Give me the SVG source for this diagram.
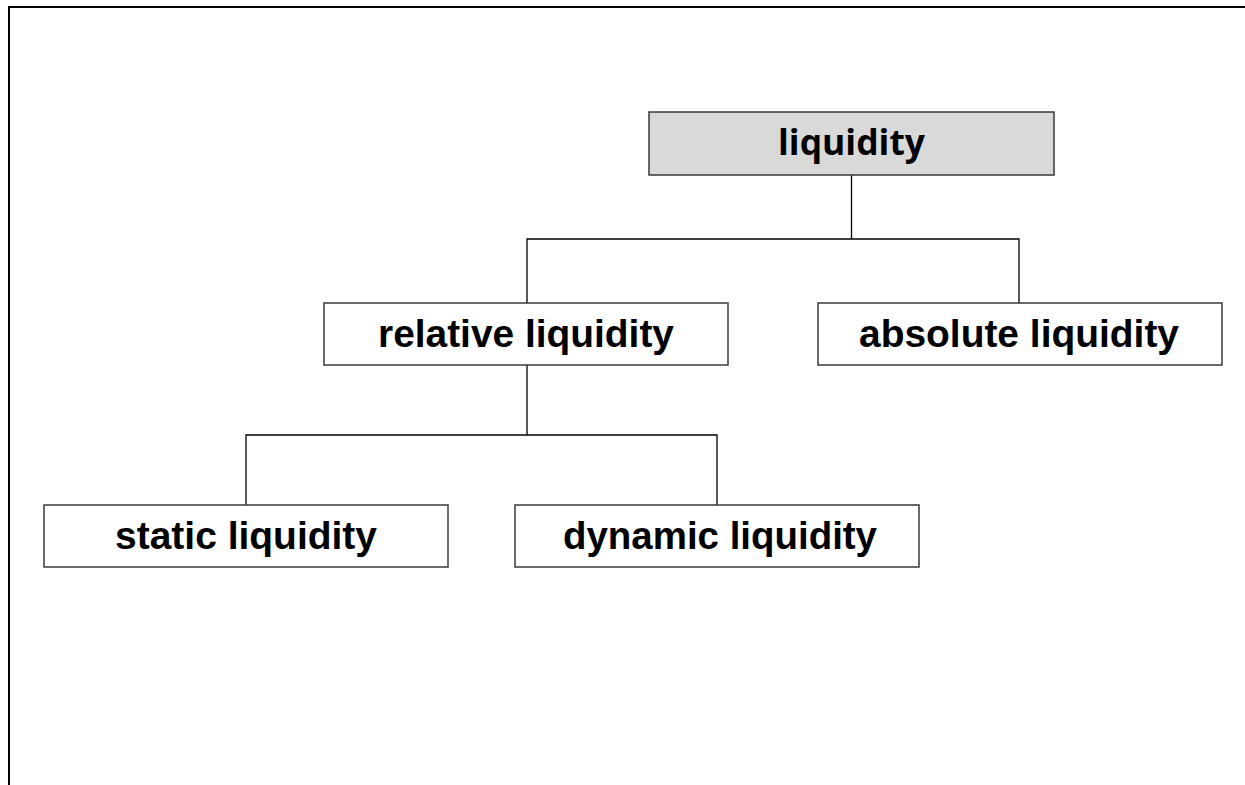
<svg xmlns="http://www.w3.org/2000/svg" width="1245" height="785" viewBox="0 0 1245 785">
  <style>
    .frame { fill: none; stroke: #000; stroke-width: 2; }
    .box { fill: #fff; stroke: #3a3a3a; stroke-width: 1.5; }
    .root { fill: #d9d9d9; stroke: #3a3a3a; stroke-width: 1.5; }
    .lbl { font-family: "Liberation Sans", Arial, sans-serif; font-weight: bold; font-size: 38px; fill: #000; text-anchor: middle; }
    .lbl-root { font-family: "Open Sans", Tahoma, sans-serif; font-weight: bold; font-size: 35px; fill: #000; text-anchor: middle; }
    .conn { fill: none; stroke: #000; stroke-width: 1.3; }
  </style>
  <rect width="1245" height="785" fill="#fff"/>

  <!-- page frame: top and left edges -->
  <path class="frame" d="M9 785 V7 H1245"/>

  <!-- tree connectors -->
  <g id="connectors">
    <path class="conn" d="M851.5 175 V239 M527 303 V239 H1019 V303"/>
    <path class="conn" d="M527 365 V435 M246 505 V435 H717 V505"/>
  </g>

  <g id="node-liquidity">
    <rect class="root" x="649" y="112" width="405" height="63"/>
    <text class="lbl-root" x="851.5" y="155" textLength="147" lengthAdjust="spacingAndGlyphs">liquidity</text>
  </g>

  <g id="node-relative">
    <rect class="box" x="324" y="303" width="404" height="62"/>
    <text class="lbl" x="526" y="347" textLength="296" lengthAdjust="spacingAndGlyphs">relative liquidity</text>
  </g>

  <g id="node-absolute">
    <rect class="box" x="818" y="303" width="404" height="62"/>
    <text class="lbl" x="1019" y="347" textLength="320" lengthAdjust="spacingAndGlyphs">absolute liquidity</text>
  </g>

  <g id="node-static">
    <rect class="box" x="44" y="505" width="404" height="62"/>
    <text class="lbl" x="246" y="548.5" textLength="262" lengthAdjust="spacingAndGlyphs">static liquidity</text>
  </g>

  <g id="node-dynamic">
    <rect class="box" x="515" y="505" width="404" height="62"/>
    <text class="lbl" x="720" y="548.5" textLength="314" lengthAdjust="spacingAndGlyphs">dynamic liquidity</text>
  </g>
</svg>
